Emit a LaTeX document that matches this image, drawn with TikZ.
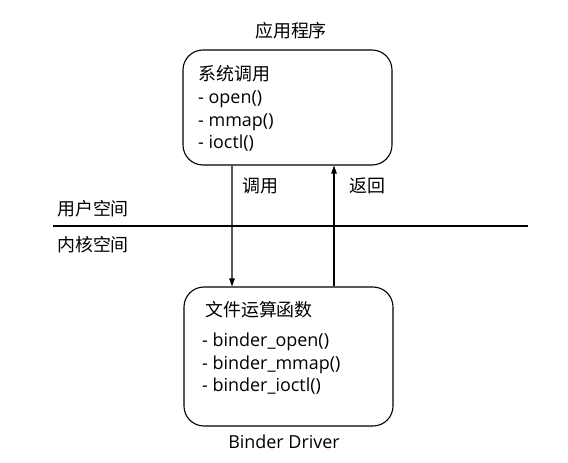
\documentclass[tikz,border=0pt]{standalone}
\usepackage{fontspec}
\setmainfont{Open Sans}
\newfontfamily\cjk{Noto Sans CJK SC}
\usetikzlibrary{arrows.meta}
\begin{document}
\begin{tikzpicture}[x=1bp,y=-1bp,
  box/.style={draw,line width=1.1bp,rounded corners=20bp,minimum width=209bp,inner sep=0},
  lbl/.style={inner sep=0,anchor=base west,font=\fontsize{18}{22}\selectfont},
  cn/.style={inner sep=0,anchor=base west,font=\cjk\fontsize{18}{22}\selectfont},
  arr/.style={line width=1.1bp,-{Triangle[length=8bp,width=5.5bp]}},
  line/.style={line width=1.1bp}]
\useasboundingbox (0,0) rectangle (568,463);
\node[box,minimum height=115bp] (top) at (287.5,107.5) {};
\node[box,minimum height=139bp] (bot) at (288.5,356.5) {};
\node[cn,anchor=base] (app) at (291,38) {应用程序};
\node[cn] (sys) at (198,81) {系统调用};
\node[lbl] (s1) at (198,104) {- open()};
\node[lbl] (s2) at (198,126.5) {- mmap()};
\node[lbl] (s3) at (198,149) {- ioctl()};
\node[cn] (fop) at (205,316) {文件运算函数};
\node[lbl] (f1) at (202,346.5) {- binder\_open()};
\node[lbl] (f2) at (202,369) {- binder\_mmap()};
\node[lbl] (f3) at (202,391.5) {- binder\_ioctl()};
\node[lbl,anchor=base] (drv) at (284,448) {Binder Driver};
\coordinate (l0) at (53,226);
\coordinate (l1) at (528,226);
\draw[line] (l0) -- (l1);
\node[cn] (user) at (57,216) {用户空间};
\node[cn] (kern) at (57,252) {内核空间};
\draw[arr] ([xshift=-55.5bp]top.south) -- ([xshift=-56.5bp]bot.north);
\draw[arr] ([xshift=45.5bp]bot.north) -- ([xshift=46.5bp]top.south);
\node[cn] (call) at (242,193) {调用};
\node[cn] (ret) at (349,193) {返回};
\end{tikzpicture}
\end{document}
